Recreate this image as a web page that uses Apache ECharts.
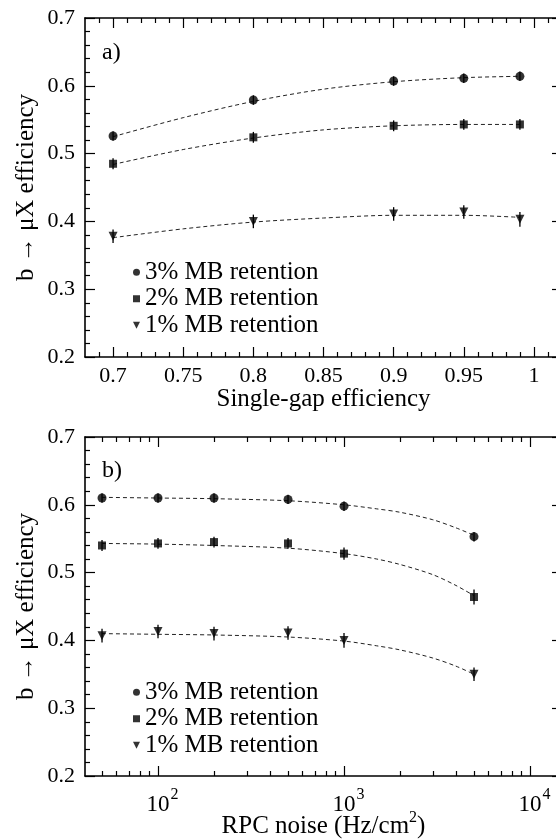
<!DOCTYPE html>
<html><head><meta charset="utf-8">
<script src="https://cdn.jsdelivr.net/npm/echarts@6/dist/echarts.min.js"></script>
<style>html,body{margin:0;padding:0;background:#fff}#c{width:556px;height:840px}</style>
</head><body><div id="c"></div>
<script>
// ---------- data ----------
const seriesNames = ['3% MB retention', '2% MB retention', '1% MB retention'];

// Panel a: efficiency vs single-gap efficiency
const gapEff = [0.7, 0.8, 0.9, 0.95, 0.99];
const effA3 = [0.526, 0.579, 0.607, 0.611, 0.614];
const effA2 = [0.485, 0.524, 0.541, 0.543, 0.543];
const effA1 = [0.378, 0.400, 0.411, 0.414, 0.403];
const errA3 = [0.007, 0.007, 0.007, 0.007, 0.007];
const errA2 = [0.008, 0.008, 0.008, 0.008, 0.008];
const errA1 = [0.010, 0.010, 0.010, 0.010, 0.011];
const fitXA = [0.7, 0.75, 0.8, 0.85, 0.9, 0.95, 0.99];
const fitA3 = [0.525, 0.553, 0.577, 0.595, 0.606, 0.612, 0.614];
const fitA2 = [0.484, 0.506, 0.523, 0.535, 0.541, 0.543, 0.543];
const fitA1 = [0.376, 0.389, 0.399, 0.405, 0.409, 0.409, 0.406];

// Panel b: efficiency vs RPC noise
const noise = [50, 100, 200, 500, 1000, 5000];
const effB3 = [0.610, 0.610, 0.610, 0.608, 0.598, 0.553];
const effB2 = [0.540, 0.543, 0.545, 0.543, 0.528, 0.464];
const effB1 = [0.407, 0.413, 0.410, 0.411, 0.400, 0.350];
const errB3 = [0.007, 0.007, 0.007, 0.007, 0.007, 0.007];
const errB2 = [0.008, 0.008, 0.008, 0.008, 0.009, 0.011];
const errB1 = [0.010, 0.010, 0.010, 0.010, 0.011, 0.010];
const fitXB = [50, 100, 200, 500, 1000, 1500, 2000, 3000, 4000, 5000];
const fitB3 = [0.611, 0.610, 0.609, 0.606, 0.600, 0.594, 0.589, 0.578, 0.566, 0.555];
const fitB2 = [0.543, 0.542, 0.540, 0.536, 0.528, 0.520, 0.512, 0.497, 0.481, 0.466];
const fitB1 = [0.410, 0.409, 0.408, 0.405, 0.399, 0.392, 0.386, 0.374, 0.362, 0.350];

// Tick definitions
const xTicksA = [0.7, 0.75, 0.8, 0.85, 0.9, 0.95, 1.0];
const xTickLabelsA = ['0.7', '0.75', '0.8', '0.85', '0.9', '0.95', '1'];
const xMinorA = [0.69, 0.71, 0.72, 0.73, 0.74, 0.76, 0.77, 0.78, 0.79, 0.81, 0.82, 0.83, 0.84,
  0.86, 0.87, 0.88, 0.89, 0.91, 0.92, 0.93, 0.94, 0.96, 0.97, 0.98, 0.99, 1.01];
const xTicksB = [100, 1000, 10000];
const xTickExpB = ['2', '3', '4'];
const xMinorB = [50, 60, 70, 80, 90, 200, 300, 400, 500, 600, 700, 800, 900,
  2000, 3000, 4000, 5000, 6000, 7000, 8000, 9000];
const yTickLabels = ['0.2', '0.3', '0.4', '0.5', '0.6', '0.7'];

// ---------- styling ----------
const FONT = 'Liberation Serif';
const BLACK = '#000';
const symbols = ['circle', 'rect', 'path://M0,0L10,0L5,10Z'];
const symSizes = [9, 8, [9, 9]];

function findIdx(arr, v) {
  for (let i = 0; i < arr.length; i++) {
    if (Math.abs(v - arr[i]) <= Math.abs(arr[i]) * 1e-6 + 1e-9) return i;
  }
  return -1;
}

function xAxesFor(gi, type, min, max, majors, minors, labelFmt, labelMargin, labelRich, name, nameGap, nameRich) {
  const base = { gridIndex: gi, type: type, min: min, max: max, splitLine: { show: false } };
  if (type === 'log') base.logBase = 10;
  const lineOn = { show: true, onZero: false, lineStyle: { color: BLACK, width: 1.6 } };
  const lineOff = { show: false, onZero: false };
  return [
    Object.assign({}, base, {
      position: 'bottom',
      axisLine: lineOn,
      axisTick: { show: true, inside: true, length: 10, customValues: majors, lineStyle: { color: BLACK, width: 1.2 } },
      axisLabel: { show: true, customValues: majors, formatter: labelFmt, margin: labelMargin,
        fontFamily: FONT, fontSize: 22, color: BLACK, rich: labelRich },
      name: name, nameLocation: 'middle', nameGap: nameGap, nameMoveOverlap: false,
      nameTextStyle: { fontFamily: FONT, fontSize: 25, color: BLACK, rich: nameRich }
    }),
    Object.assign({}, base, {
      position: 'bottom', axisLine: lineOff,
      axisTick: { show: true, inside: true, length: 5, customValues: minors, lineStyle: { color: BLACK, width: 1.2 } },
      axisLabel: { show: false }
    }),
    Object.assign({}, base, {
      position: 'top', axisLine: lineOn,
      axisTick: { show: true, inside: true, length: 10, customValues: majors, lineStyle: { color: BLACK, width: 1.2 } },
      axisLabel: { show: false }
    }),
    Object.assign({}, base, {
      position: 'top', axisLine: lineOff,
      axisTick: { show: true, inside: true, length: 5, customValues: minors, lineStyle: { color: BLACK, width: 1.2 } },
      axisLabel: { show: false }
    })
  ];
}

function yAxesFor(gi) {
  const base = { gridIndex: gi, type: 'value', min: 0.2, max: 0.7, interval: 0.1, splitLine: { show: false } };
  return [
    Object.assign({}, base, {
      position: 'left',
      axisLine: { show: true, onZero: false, lineStyle: { color: BLACK, width: 1.6 } },
      axisTick: { show: true, inside: true, length: 10, lineStyle: { color: BLACK, width: 1.2 } },
      minorTick: { show: true, splitNumber: 5, length: 5, lineStyle: { color: BLACK, width: 1.2 } },
      axisLabel: { show: true, margin: 10, fontFamily: FONT, fontSize: 22, color: BLACK,
        formatter: function (v) { return yTickLabels[Math.round((v - 0.2) * 10)]; } },
      name: 'b \u2192 \u03bcX efficiency', nameLocation: 'middle', nameGap: 46, nameMoveOverlap: false,
      nameTextStyle: { fontFamily: FONT, fontSize: 25, color: BLACK }
    }),
    Object.assign({}, base, {
      position: 'right',
      axisLine: { show: true, onZero: false, lineStyle: { color: BLACK, width: 1.6 } },
      axisTick: { show: true, inside: true, length: 10, lineStyle: { color: BLACK, width: 1.2 } },
      minorTick: { show: true, splitNumber: 5, length: 5, lineStyle: { color: BLACK, width: 1.2 } },
      axisLabel: { show: false }
    })
  ];
}

function errRender(params, api) {
  const x = api.value(0), y = api.value(1), e = api.value(2);
  const p1 = api.coord([x, y - e]);
  const p2 = api.coord([x, y + e]);
  return { type: 'line', shape: { x1: p1[0], y1: p1[1], x2: p2[0], y2: p2[1] },
    style: { stroke: BLACK, lineWidth: 1.3 } };
}

function panelSeries(xAxisIndex, yAxisIndex, xs, ys, errs, fitX, fits) {
  const out = [];
  for (let k = 0; k < 3; k++) {
    out.push({
      type: 'line', name: 'fit ' + k, xAxisIndex: xAxisIndex, yAxisIndex: yAxisIndex,
      data: fitX.map((x, i) => [x, fits[k][i]]),
      smooth: 0.3, showSymbol: false, symbol: 'none', silent: true,
      lineStyle: { color: '#222', width: 1, type: [4, 3] }, z: 1
    });
    out.push({
      type: 'custom', name: 'err ' + k, xAxisIndex: xAxisIndex, yAxisIndex: yAxisIndex,
      renderItem: errRender, encode: { x: 0, y: 1 }, silent: true,
      data: xs.map((x, i) => [x, ys[k][i], errs[k][i]]), z: 2
    });
    out.push({
      type: 'scatter', name: seriesNames[k], xAxisIndex: xAxisIndex, yAxisIndex: yAxisIndex,
      symbol: symbols[k], symbolSize: symSizes[k],
      itemStyle: { color: BLACK }, data: xs.map((x, i) => [x, ys[k][i]]), z: 3
    });
  }
  return out;
}

function legendFor(top) {
  return {
    orient: 'vertical', left: 128, top: top, itemWidth: 7, itemHeight: 7, itemGap: 0, itemTextGap: 10,
    selectedMode: false,
    textStyle: { fontFamily: FONT, fontSize: 25, color: BLACK, lineHeight: 26.5 },
    data: seriesNames.map((n, k) => ({ name: n, icon: symbols[k], itemStyle: { color: BLACK } }))
  };
}

const fmtA = function (v) { const i = findIdx(xTicksA, v); return i >= 0 ? xTickLabelsA[i] : ''; };
// two-line label: exponent on a thin first line (right aligned), "10" below
const fmtB = function (v) {
  const i = findIdx(xTicksB, v);
  return i >= 0 ? '{s|' + xTickExpB[i] + '}\n{b|10}' : '';
};
const richB = {
  b: { fontFamily: FONT, fontSize: 23, lineHeight: 16, padding: [0, 10, 0, 10], color: BLACK },
  s: { fontFamily: FONT, fontSize: 16, lineHeight: 4, align: 'right', padding: [0, 1, 0, 0], color: BLACK }
};
const richNameB = {
  n: { fontFamily: FONT, fontSize: 25, lineHeight: 29, verticalAlign: 'bottom', color: BLACK },
  s: { fontFamily: FONT, fontSize: 16, lineHeight: 16, verticalAlign: 'top', color: BLACK }
};

const xAxes = []
  .concat(xAxesFor(0, 'value', 0.68, 1.02, xTicksA, xMinorA, fmtA, 8, undefined, 'Single-gap efficiency', 30, undefined))
  .concat(xAxesFor(1, 'log', 40.5, 14860, xTicksB, xMinorB, fmtB, 17, richB, '{n|RPC noise (Hz/cm}{s|2}{n|)}', 34, richNameB));
const yAxes = [].concat(yAxesFor(0)).concat(yAxesFor(1));

const series = []
  .concat(panelSeries(0, 0, gapEff, [effA3, effA2, effA1], [errA3, errA2, errA1], fitXA, [fitA3, fitA2, fitA1]))
  .concat(panelSeries(4, 2, noise, [effB3, effB2, effB1], [errB3, errB2, errB1], fitXB, [fitB3, fitB2, fitB1]));

const chart = echarts.init(document.getElementById('c'), null, { renderer: 'canvas' });
chart.setOption({
  backgroundColor: '#fff',
  animation: false,
  textStyle: { fontFamily: FONT },
  grid: [
    { left: 85, top: 18, width: 477, height: 339, containLabel: false, outerBoundsMode: 'none' },
    { left: 85, top: 437, width: 477, height: 339, containLabel: false, outerBoundsMode: 'none' }
  ],
  xAxis: xAxes,
  yAxis: yAxes,
  legend: [legendFor(254), legendFor(674)],
  graphic: [
    { type: 'text', left: 102, top: 41, style: { text: 'a)', font: '24px "Liberation Serif"', fill: BLACK } },
    { type: 'text', left: 102, top: 459, style: { text: 'b)', font: '24px "Liberation Serif"', fill: BLACK } }
  ],
  series: series
});
</script>
</body></html>
